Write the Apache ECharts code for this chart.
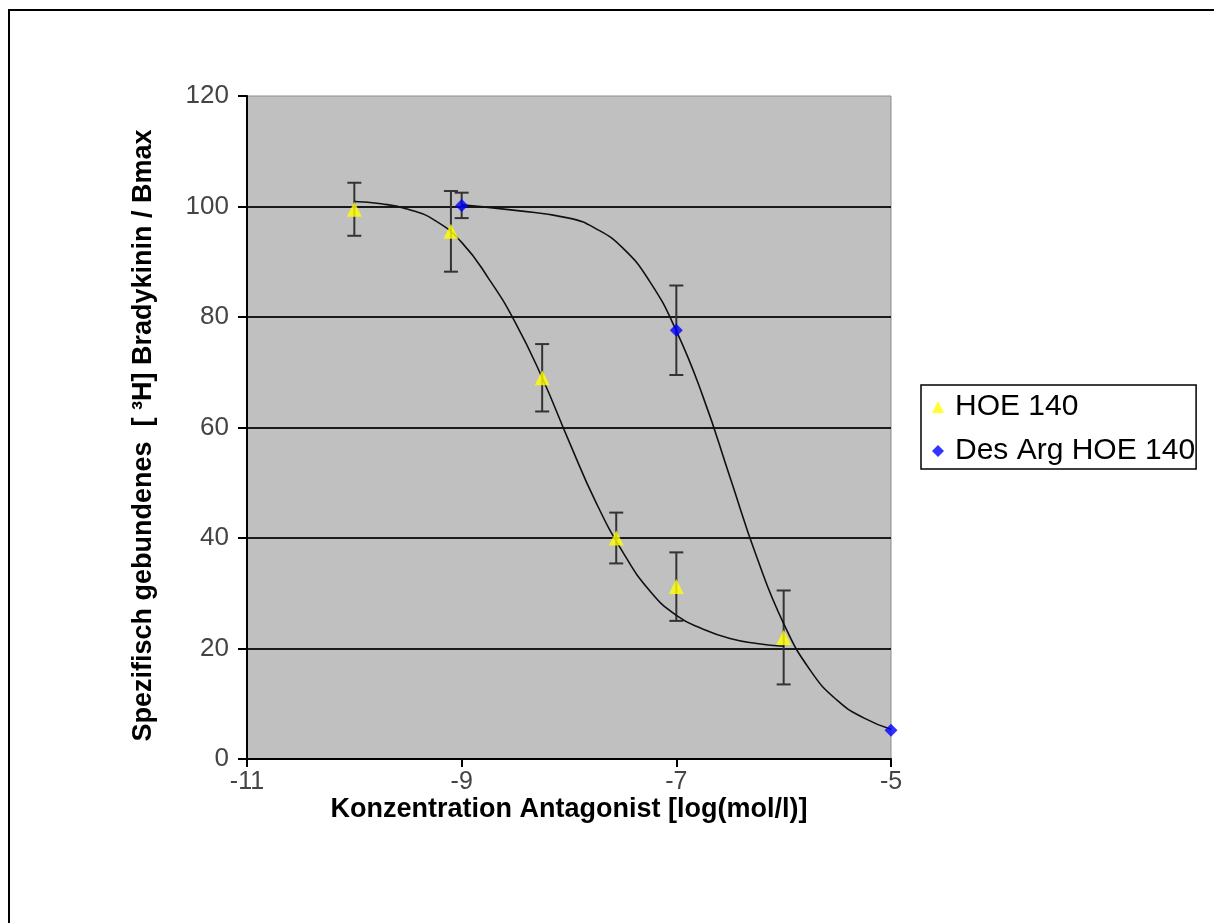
<!DOCTYPE html>
<html>
<head>
<meta charset="utf-8">
<script src="https://cdn.jsdelivr.net/npm/echarts@6/dist/echarts.min.js"></script>
<style>
html,body{margin:0;padding:0;background:#fff;}
#chart{width:1214px;height:923px;}
</style>
</head>
<body>
<div id="chart"></div>
<script>
// ---- data ----
const xTicks = [-11, -9, -7, -5];
const yTicks = [0, 20, 40, 60, 80, 100, 120];

const hoeName = 'HOE 140';
const hoeX = [-10, -9.1, -8.25, -7.56, -7, -6];
const hoeY = [99.5, 95.5, 69, 40, 31.2, 22];
const hoeErr = [4.8, 7.3, 6.1, 4.6, 6.2, 8.5];

const desName = 'Des Arg HOE 140';
const desX = [-9, -7, -5];
const desY = [100.2, 77.6, 5.2];
const desErr = [2.3, 8.1, 0];

// fitted curves
const hoeFitX = [-10, -9.75, -9.5, -9.25, -9, -8.75, -8.5, -8.25, -8, -7.75, -7.5, -7.25, -7, -6.75, -6.5, -6.25, -6];
const hoeFitY = [100.9, 100.5, 99.5, 97.5, 93.5, 87, 79, 69, 57.5, 46.5, 37.5, 30.5, 26, 23.5, 21.8, 20.9, 20.4];

const desFitX = [-9, -8.5, -8, -7.75, -7.5, -7.25, -7, -6.75, -6.5, -6.25, -6, -5.75, -5.5, -5.25, -5];
const desFitY = [100.3, 99.3, 97.9, 96, 92.5, 86.5, 77.5, 65.5, 51, 36.5, 24.5, 16, 10.6, 7.4, 5.4];

// ---- build series ----
const zip = (xs, ys) => xs.map((x, i) => [x, ys[i]]);
const errData = (xs, ys, es) => xs.map((x, i) => [x, ys[i] - es[i], ys[i] + es[i]]).filter((d, i) => es[i] > 0);

function errorBarRender(params, api) {
  const x = api.value(0), lo = api.value(1), hi = api.value(2);
  const p1 = api.coord([x, hi]);
  const p2 = api.coord([x, lo]);
  const w = 7;
  const st = { stroke: '#333', lineWidth: 2 };
  return {
    type: 'group',
    children: [
      { type: 'line', shape: { x1: p1[0], y1: p1[1], x2: p2[0], y2: p2[1] }, style: st },
      { type: 'line', shape: { x1: p1[0] - w, y1: p1[1], x2: p1[0] + w, y2: p1[1] }, style: st },
      { type: 'line', shape: { x1: p2[0] - w, y1: p2[1], x2: p2[0] + w, y2: p2[1] }, style: st }
    ]
  };
}

const labelFont = 'Liberation Sans, Arial, sans-serif';

const option = {
  animation: false,
  backgroundColor: '#ffffff',
  textStyle: { fontFamily: labelFont },
  graphic: [
    { type: 'line', shape: { x1: 8, y1: 10, x2: 1214, y2: 10 }, style: { stroke: '#000', lineWidth: 2 } },
    { type: 'line', shape: { x1: 9, y1: 10, x2: 9, y2: 923 }, style: { stroke: '#000', lineWidth: 2 } }
  ],
  grid: {
    left: 247, top: 96, width: 644, height: 663,
    show: true, backgroundColor: '#c0c0c0', borderColor: '#8c8c8c', borderWidth: 1
  },
  legend: {
    orient: 'vertical',
    left: 921, top: 385,
    borderColor: '#000', borderWidth: 1.5,
    padding: [7, 1, 3, 11],
    itemGap: 14,
    itemWidth: 12, itemHeight: 12,
    textStyle: { fontSize: 30, color: '#000', fontFamily: labelFont, padding: [0, 0, 0, 6] },
    data: [
      { name: hoeName, icon: 'triangle' },
      { name: desName, icon: 'diamond' }
    ]
  },
  xAxis: {
    type: 'value',
    min: xTicks[0], max: xTicks[xTicks.length - 1], interval: 2,
    name: 'Konzentration Antagonist [log(mol/l)]',
    nameLocation: 'middle', nameGap: 37, nameMoveOverlap: false,
    nameTextStyle: { fontSize: 27, fontWeight: 'bold', color: '#000', fontFamily: labelFont },
    axisLine: { show: true, onZero: false, lineStyle: { color: '#000', width: 2 } },
    axisTick: { show: true, inside: false, length: 8, lineStyle: { color: '#000', width: 2 } },
    axisLabel: { fontSize: 25, color: '#444', margin: 11, fontFamily: labelFont },
    splitLine: { show: false }
  },
  yAxis: {
    type: 'value',
    min: yTicks[0], max: yTicks[yTicks.length - 1], interval: 20,
    name: 'Spezifisch gebundenes  [ \u00B3H] Bradykinin / Bmax',
    nameLocation: 'middle', nameGap: 90, nameRotate: 90,
    nameTextStyle: { fontSize: 27, fontWeight: 'bold', color: '#000', fontFamily: labelFont, padding: [0, 16, 0, 0] },
    axisLine: { show: true, lineStyle: { color: '#000', width: 2 } },
    axisTick: { show: true, inside: false, length: 9, lineStyle: { color: '#000', width: 2 } },
    axisLabel: { fontSize: 26, color: '#444', margin: 18, fontFamily: labelFont },
    splitLine: { show: true, showMinLine: false, showMaxLine: false, lineStyle: { color: '#1a1a1a', width: 2 } }
  },
  series: [
    {
      name: 'errHOE', type: 'custom', renderItem: errorBarRender,
      data: errData(hoeX, hoeY, hoeErr), encode: { x: 0, y: [1, 2] }, z: 3, silent: true
    },
    {
      name: 'errDES', type: 'custom', renderItem: errorBarRender,
      data: errData(desX, desY, desErr), encode: { x: 0, y: [1, 2] }, z: 3, silent: true
    },
    {
      name: 'fitHOE', type: 'line', data: zip(hoeFitX, hoeFitY), showSymbol: false,
      smooth: 0.5,
      lineStyle: { color: '#111', width: 1.6 }, z: 4, silent: true
    },
    {
      name: 'fitDES', type: 'line', data: zip(desFitX, desFitY), showSymbol: false,
      smooth: 0.5,
      lineStyle: { color: '#111', width: 1.6 }, z: 4, silent: true
    },
    {
      name: desName, type: 'scatter', data: zip(desX, desY),
      symbol: 'diamond', symbolSize: 13,
      itemStyle: { color: '#0000ff' }, z: 5
    },
    {
      name: hoeName, type: 'scatter', data: zip(hoeX, hoeY),
      symbol: 'triangle', symbolSize: 15,
      itemStyle: { color: '#ffff00' }, z: 6
    }
  ]
};

const chart = echarts.init(document.getElementById('chart'), null, { renderer: 'canvas' });
chart.setOption(option);
</script>
</body>
</html>
